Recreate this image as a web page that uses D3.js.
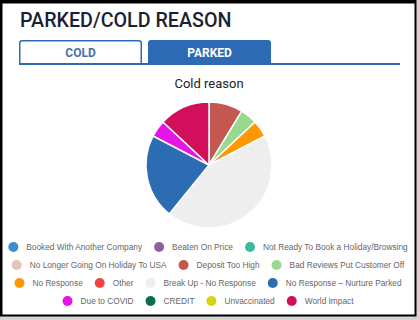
<!DOCTYPE html>
<html><head><meta charset="utf-8">
<script src="https://cdn.jsdelivr.net/npm/d3@7/dist/d3.min.js"></script>
<style>
html,body{margin:0;padding:0;background:#d4d4d4;}
svg{display:block;}
</style></head>
<body>
<svg id="c" width="419" height="320"></svg>
<script>
const categories = ["Booked With Another Company","Beaten On Price","Not Ready To Book a Holiday/Browsing","No Longer Going On Holiday To USA","Deposit Too High","Bad Reviews Put Customer Off","No Response","Other","Break Up - No Response","No Response \u2013 Nurture Parked","Due to COVID","CREDIT","Unvaccinated","World Impact"];
const values = [0,0,0,0,2,1,1,0,10,5,1,0,0,3];
const colors = ["#3a8dd0","#8e5ea2","#3cba9f","#e8c3b9","#c45850","#98d98e","#ff9800","#f04444","#eeeeee","#2b6cb3","#e615e6","#0b6e4f","#d4d414","#d10f5a"];
const tabs = ["COLD","PARKED"];
const activeTab = "PARKED";

const svg = d3.select("#c");
// card
svg.append("rect").attr("x",0).attr("y",0).attr("width",416.5).attr("height",316.5).attr("fill","#000");
svg.append("rect").attr("x",2.5).attr("y",3.5).attr("width",412).attr("height",311).attr("fill","#fff");

svg.append("text").attr("x",20).attr("y",27).text("PARKED/COLD REASON")
  .attr("font-family","Roboto").attr("font-weight",500).attr("font-size",19.7).attr("fill","#1b1f33");

// tabs
const tx = d3.scaleBand().domain(tabs).range([19,271]).paddingInner(0.0465);
const tabG = svg.append("g");
tabs.forEach(t=>{
  const x=tx(t), w=tx.bandwidth(), y=40, h=24, r=3;
  const act = t===activeTab;
  tabG.append("path")
    .attr("d",`M${x+0.75},${y+h} V${y+r} Q${x+0.75},${y+0.75} ${x+r},${y+0.75} H${x+w-r} Q${x+w-0.75},${y+0.75} ${x+w-0.75},${y+r} V${y+h}`)
    .attr("fill",act?"#2c6bb3":"#fff").attr("stroke","#2c6bb3").attr("stroke-width",1.5);
  tabG.append("text").attr("x",x+w/2).attr("y",57).attr("text-anchor","middle").text(t)
    .attr("font-family","Roboto").attr("font-weight",700).attr("font-size",12)
    .attr("fill",act?"#fff":"#4a70ad");
});
svg.append("rect").attr("x",19).attr("y",63).attr("width",381).attr("height",2).attr("fill","#2c6bb3");

// pie title
svg.append("text").attr("x",209).attr("y",88).attr("text-anchor","middle").text("Cold reason")
  .attr("font-family","Roboto, Arial, sans-serif").attr("font-size",13).attr("fill","#222");

// pie
const data = categories.map((c,i)=>({c, v:values[i], col:colors[i]}));
const pie = d3.pie().sort(null).value(d=>d.v);
const arc = d3.arc().innerRadius(0).outerRadius(63);
svg.append("g").attr("transform","translate(209,165)")
  .selectAll("path").data(pie(data).filter(d=>d.data.v>0)).join("path")
  .attr("d",arc).attr("fill",d=>d.data.col).attr("stroke","#fff").attr("stroke-width",1.5);

// legend flow
const lg = svg.append("g");
const fontSize = 8.3;
const ff = "'Liberation Sans', Arial, sans-serif";
const meas = svg.append("text").attr("font-family",ff).attr("font-size",fontSize);
const items = data.map(d=>{ meas.text(d.c); return {...d, tw: meas.node().getComputedTextLength()}; });
meas.remove();
const boxW=10, gapT=8, gapI=12, maxW=408;
const rows=[]; let cur=[], curW=0;
items.forEach(it=>{
  const w = boxW+gapT+it.tw;
  const add = cur.length? gapI+w : w;
  if(cur.length && curW+add>maxW){ rows.push({items:cur,w:curW}); cur=[it]; curW=w; }
  else { cur.push(it); curW+=add; }
});
rows.push({items:cur,w:curW});
const rowY = d3.scaleLinear().domain([0,1]).range([247,265]);
rows.forEach((row,ri)=>{
  let x = 208-row.w/2;
  const y = rowY(ri);
  row.items.forEach(it=>{
    lg.append("circle").attr("cx",x+boxW/2).attr("cy",y).attr("r",5).attr("fill",it.col);
    lg.append("text").attr("x",x+boxW+gapT).attr("y",y+3).text(it.c)
      .attr("font-family",ff).attr("font-size",fontSize).attr("fill","#666");
    x += boxW+gapT+it.tw+gapI;
  });
});
</script>
</body></html>
